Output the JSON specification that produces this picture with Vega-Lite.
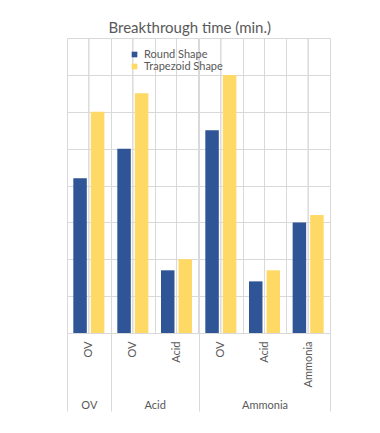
{
  "$schema": "https://vega.github.io/schema/vega-lite/v6.json",
  "padding": {"left": 61, "top": 20, "right": 0, "bottom": 0},
  "background": "white",
  "title": {"text": "Breakthrough time (min.)", "font": "Lato", "fontSize": 15, "fontWeight": "normal", "color": "#595959", "anchor": "middle", "dx": -6, "offset": 2},
  "data": {"values": [
    {"group": "OV", "sub": "OV", "series": "Round Shape", "value": 42},
    {"group": "OV", "sub": "OV", "series": "Trapezoid Shape", "value": 60},
    {"group": "Acid", "sub": "OV", "series": "Round Shape", "value": 50},
    {"group": "Acid", "sub": "OV", "series": "Trapezoid Shape", "value": 65},
    {"group": "Acid", "sub": "Acid", "series": "Round Shape", "value": 17},
    {"group": "Acid", "sub": "Acid", "series": "Trapezoid Shape", "value": 20},
    {"group": "Ammonia", "sub": "OV", "series": "Round Shape", "value": 55},
    {"group": "Ammonia", "sub": "OV", "series": "Trapezoid Shape", "value": 70},
    {"group": "Ammonia", "sub": "Acid", "series": "Round Shape", "value": 14},
    {"group": "Ammonia", "sub": "Acid", "series": "Trapezoid Shape", "value": 17},
    {"group": "Ammonia", "sub": "Ammonia", "series": "Round Shape", "value": 30},
    {"group": "Ammonia", "sub": "Ammonia", "series": "Trapezoid Shape", "value": 32}
  ]},
  "spacing": 0,
  "bounds": "flush",
  "resolve": {"scale": {"y": "shared", "color": "shared"}},
  "hconcat": [
    {
      "width": 43.67, "height": 295,
      "transform": [{"filter": "datum.group === 'OV'"}],
      "layer": [
        {"mark": {"type": "rule", "color": "#D9D9D9", "strokeWidth": 1},
         "encoding": {"x": {"field": "sub", "type": "nominal", "sort": ["OV", "Acid", "Ammonia"]}}},
        {"mark": {"type": "bar"},
         "encoding": {
          "x": {"field": "sub", "type": "nominal", "sort": ["OV", "Acid", "Ammonia"],
            "scale": {"paddingInner": 0, "paddingOuter": 0},
            "axis": {"title": "OV", "titleY": 75, "titleBaseline": "alphabetic",
              "tickOpacity": {"condition": {"test": "datum.value == null || datum.value === 'Ammonia'", "value": 1}, "value": 0}}},
          "xOffset": {"field": "series", "type": "nominal", "sort": ["Round Shape", "Trapezoid Shape"], "scale": {"paddingInner": 0.23, "paddingOuter": 0.36}},
          "y": {"field": "value", "type": "quantitative", "stack": null, "scale": {"domain": [0, 80], "nice": false}},
          "color": {"field": "series", "type": "nominal", "sort": ["Round Shape", "Trapezoid Shape"],
            "scale": {"range": ["#2F5597", "#FFD966"]},
            "legend": {"orient": "none", "legendX": 62, "legendY": 11, "title": null, "symbolType": "square", "symbolSize": 32, "symbolStrokeWidth": 0, "labelFont": "Lato", "labelFontSize": 11, "labelColor": "#595959", "rowPadding": 0, "labelOffset": 4}}
        }}
      ]
    },
    {
      "width": 87.33, "height": 295,
      "transform": [{"filter": "datum.group === 'Acid'"}],
      "layer": [
        {"mark": {"type": "rule", "color": "#D9D9D9", "strokeWidth": 1},
         "encoding": {"x": {"field": "sub", "type": "nominal", "sort": ["OV", "Acid", "Ammonia"]}}},
        {"mark": {"type": "bar"},
         "encoding": {
          "x": {"field": "sub", "type": "nominal", "sort": ["OV", "Acid", "Ammonia"],
            "scale": {"paddingInner": 0, "paddingOuter": 0},
            "axis": {"title": "Acid", "titleY": 75, "titleBaseline": "alphabetic",
              "tickOpacity": {"condition": {"test": "datum.value == null || datum.value === 'Ammonia'", "value": 1}, "value": 0}}},
          "xOffset": {"field": "series", "type": "nominal", "sort": ["Round Shape", "Trapezoid Shape"], "scale": {"paddingInner": 0.23, "paddingOuter": 0.36}},
          "y": {"field": "value", "type": "quantitative", "stack": null, "scale": {"domain": [0, 80], "nice": false}},
          "color": {"field": "series", "type": "nominal", "sort": ["Round Shape", "Trapezoid Shape"]}
        }}
      ]
    },
    {
      "width": 131, "height": 295,
      "transform": [{"filter": "datum.group === 'Ammonia'"}],
      "layer": [
        {"mark": {"type": "rule", "color": "#D9D9D9", "strokeWidth": 1},
         "encoding": {"x": {"field": "sub", "type": "nominal", "sort": ["OV", "Acid", "Ammonia"]}}},
        {"mark": {"type": "bar"},
         "encoding": {
          "x": {"field": "sub", "type": "nominal", "sort": ["OV", "Acid", "Ammonia"],
            "scale": {"paddingInner": 0, "paddingOuter": 0},
            "axis": {"title": "Ammonia", "titleY": 75, "titleBaseline": "alphabetic",
              "tickOpacity": {"condition": {"test": "datum.value == null || datum.value === 'Ammonia'", "value": 1}, "value": 0}}},
          "xOffset": {"field": "series", "type": "nominal", "sort": ["Round Shape", "Trapezoid Shape"], "scale": {"paddingInner": 0.23, "paddingOuter": 0.36}},
          "y": {"field": "value", "type": "quantitative", "stack": null, "scale": {"domain": [0, 80], "nice": false}},
          "color": {"field": "series", "type": "nominal", "sort": ["Round Shape", "Trapezoid Shape"]}
        }}
      ]
    }
  ],
  "config": {
    "view": {"stroke": null},
    "axisX": {"labelAngle": 270, "labelFont": "Lato", "labelFontSize": 11, "labelColor": "#595959",
      "labelPadding": -70, "tickBand": "extent", "tickSize": 78, "tickColor": "#D9D9D9",
      "domainColor": "#D9D9D9", "gridColor": "#D9D9D9", "grid": true,
      "titleFont": "Lato", "titleFontSize": 11, "titleFontWeight": "normal", "titleColor": "#595959"},
    "axisY": {"title": null, "labels": false, "ticks": false, "domain": false, "tickCount": 8, "gridColor": "#D9D9D9", "minExtent": 0, "maxExtent": 0, "offset": 0}
  }
}
